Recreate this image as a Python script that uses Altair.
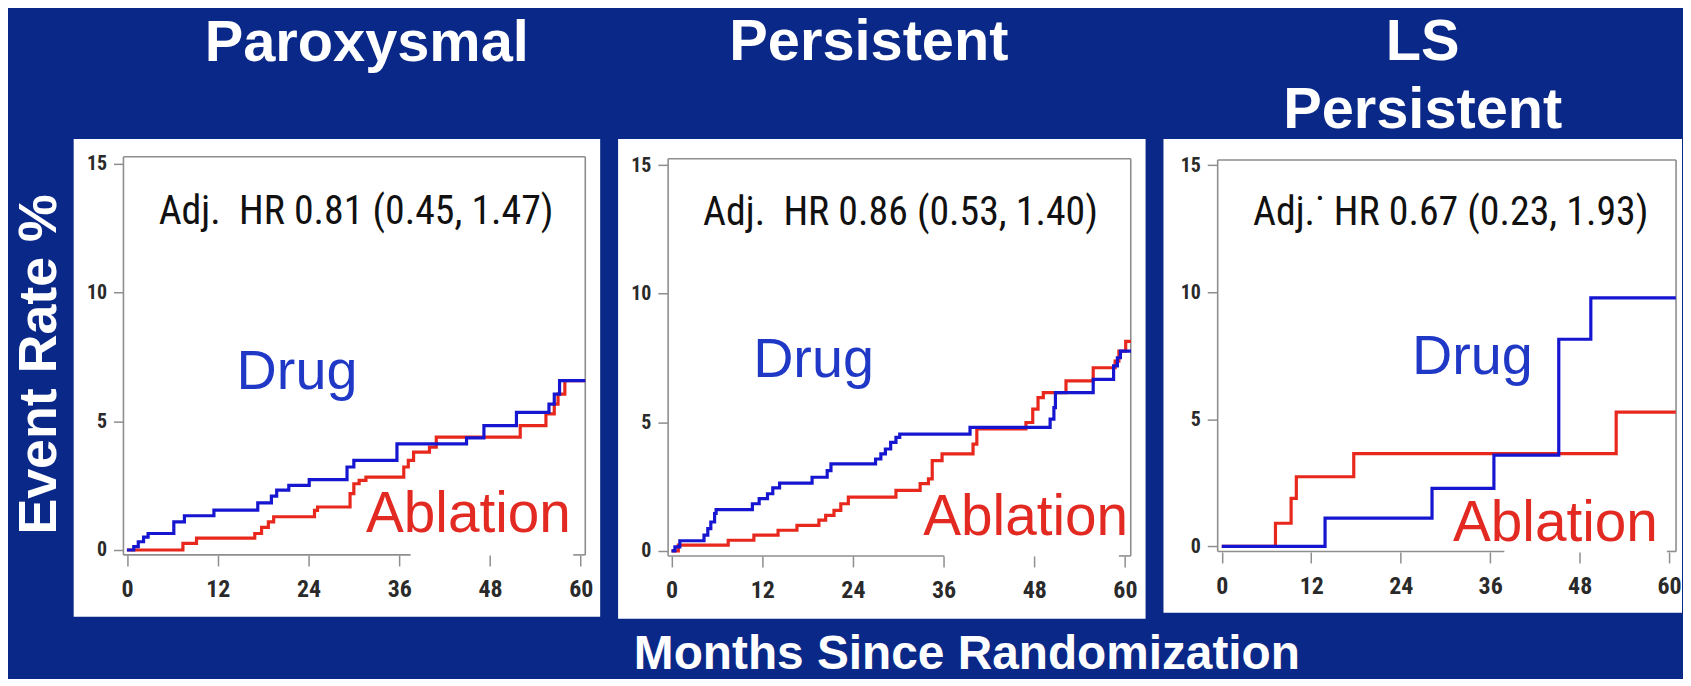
import altair as alt
import pandas as pd

# ---------------- data ----------------
panel_titles = [["Paroxysmal"], ["Persistent"], ["LS", "Persistent"]]
hr_labels = ["Adj.\u00a0\u00a0HR 0.81 (0.45, 1.47)",
             "Adj.\u00a0\u00a0HR 0.86 (0.53, 1.40)",
             "Adj.\u02d9\u00a0HR 0.67 (0.23, 1.93)"]
series_names = ["Drug", "Ablation"]
x_ticks = [0, 12, 24, 36, 48, 60]
y_ticks = [0, 5, 10, 15]
y_title = "Event Rate %"
x_title = "Months Since Randomization"

# Paroxysmal
par_drug_t = [0, 0.9, 1.5, 2.2, 2.8, 6.2, 7.6, 11.5, 17.3, 19.1, 19.8, 21.4, 24.1, 29.1, 30.0, 35.7, 44.9, 47.2, 51.5, 55.8, 56.5, 57.2, 60.6]
par_drug_v = [0, 0.13, 0.32, 0.50, 0.64, 1.09, 1.33, 1.55, 1.83, 2.09, 2.32, 2.51, 2.73, 3.22, 3.48, 4.12, 4.35, 4.83, 5.34, 5.66, 6.05, 6.57, 6.57]
par_abl_t = [0, 7.4, 9.2, 16.9, 17.8, 18.7, 19.4, 24.8, 25.2, 29.5, 30.0, 30.7, 31.6, 36.6, 37.2, 37.9, 40.0, 40.9, 52.0, 55.4, 56.5, 57.0, 57.9, 60.6]
par_abl_v = [0, 0.26, 0.46, 0.64, 0.88, 1.09, 1.29, 1.54, 1.67, 2.19, 2.57, 2.70, 2.83, 3.22, 3.48, 3.80, 3.99, 4.38, 4.83, 5.28, 5.66, 6.05, 6.57, 6.57]

# Persistent
per_drug_t = [0, 0.45, 1.1, 4.3, 4.8, 5.2, 5.7, 5.9, 10.7, 11.6, 12.7, 13.4, 14.3, 18.6, 20.6, 21.1, 27.0, 27.7, 28.3, 29.0, 29.7, 30.2, 39.5, 50.1, 50.6, 50.8, 55.8, 58.5, 59.0, 59.4, 60.8]
per_drug_v = [0, 0.15, 0.39, 0.61, 0.86, 1.12, 1.45, 1.60, 1.83, 2.03, 2.22, 2.45, 2.63, 2.86, 3.12, 3.38, 3.57, 3.77, 3.96, 4.22, 4.41, 4.54, 4.80, 5.12, 5.57, 6.15, 6.67, 7.19, 7.51, 7.77, 7.77]
per_abl_t = [0, 0.9, 7.5, 10.9, 14.1, 16.6, 19.5, 20.4, 21.5, 22.4, 23.4, 29.7, 32.9, 34.0, 34.5, 35.8, 39.9, 40.4, 46.9, 47.8, 48.5, 49.2, 52.2, 55.8, 58.7, 59.2, 60.1, 60.8]
per_abl_v = [0, 0.22, 0.41, 0.61, 0.80, 0.99, 1.19, 1.38, 1.57, 1.83, 2.09, 2.35, 2.61, 2.80, 3.51, 3.77, 4.15, 4.74, 4.99, 5.51, 5.96, 6.15, 6.61, 7.12, 7.38, 7.77, 8.15, 8.15]

# Long-standing persistent
ls_drug_t = [0, 13.85, 28.2, 36.5, 45.2, 49.5, 60.9]
ls_drug_v = [0, 1.11, 2.28, 3.59, 8.15, 9.78, 9.78]
ls_abl_t = [0, 7.2, 9.3, 10.0, 17.7, 52.9, 60.9]
ls_abl_v = [0, 0.91, 1.89, 2.74, 3.65, 5.28, 5.28]

curves = [
    ((par_drug_t, par_drug_v), (par_abl_t, par_abl_v)),
    ((per_drug_t, per_drug_v), (per_abl_t, per_abl_v)),
    ((ls_drug_t, ls_drug_v), (ls_abl_t, ls_abl_v)),
]

# ---------------- styling / layout ----------------
BG = "#0a2888"
FRAME = "#8e8e8e"
LABEL = "#2a2a2a"
LINE_BLUE = "#1616d0"
LINE_RED = "#e8281c"
TXT_BLUE = "#1f38c6"
TXT_RED = "#e22a22"
SANS = "Liberation Sans, Arial, sans-serif"
NARROW = "Liberation Sans Narrow, Arial Narrow, Roboto Condensed, Liberation Sans, sans-serif"

CFG = [
    dict(width=529, height=480, xdom=[-7.04, 62.57], ydom=[-2.588, 15.95],
         frame=(-0.46, 60.6, -0.19, 15.26), gap=(37.5, 59.0), xoff=-62, yoff=-50,
         hr=(30.3, 12.67), drug=(14.5, 6.26), abl=(31.6, 0.71), toff=66, tdx=30),
    dict(width=530, height=482, xdom=[-7.07, 62.73], ydom=[-2.641, 16.02],
         frame=(-0.45, 60.77, -0.2, 15.25), gap=(36.1, 59.2), xoff=-63, yoff=-50,
         hr=(30.3, 12.67), drug=(10.8, 6.76), abl=(33.3, 0.61), toff=67, tdx=-13),
    dict(width=521, height=476, xdom=[-7.82, 61.73], ydom=[-2.61, 16.03],
         frame=(-0.55, 60.93, -0.2, 15.2), gap=(37.9, 59.7), xoff=-61, yoff=-54,
         hr=(30.7, 12.65), drug=(25.5, 6.78), abl=(31.0, 0.2), toff=-1, tdx=0),
]


def build_panel(k):
    c = CFG[k]
    xs = alt.Scale(domain=c["xdom"], nice=False, zero=False)
    ys = alt.Scale(domain=c["ydom"], nice=False, zero=False)

    xaxis_kw = dict(values=x_ticks, offset=c["xoff"], domain=False, grid=False,
                    tickSize=11, tickColor=FRAME, tickWidth=1.5,
                    labelFont=NARROW, labelFontWeight="bold", labelFontSize=24,
                    labelColor=LABEL, labelPadding=12, labelFlush=False)
    yaxis_kw = dict(values=y_ticks, offset=c["yoff"], domain=False, grid=False,
                    tickSize=10, tickColor=FRAME, tickWidth=1.5,
                    labelFont=NARROW, labelFontWeight="bold", labelFontSize=20,
                    labelColor=LABEL, labelPadding=7)
    if k == 1:
        xaxis = alt.Axis(title=x_title, titleFont=SANS, titleFontWeight="bold",
                         titleFontSize=48, titleColor="white", titleBaseline="alphabetic",
                         titleAlign="center", titleX=350, titleY=113, **xaxis_kw)
    else:
        xaxis = alt.Axis(title=None, **xaxis_kw)
    if k == 0:
        yaxis = alt.Axis(title=y_title, titleFont=SANS, titleFontWeight="bold",
                         titleFontSize=54, titleColor="white", titleAngle=270,
                         titleBaseline="alphabetic", titleAlign="center",
                         titleX=-68, titleY=226, **yaxis_kw)
    else:
        yaxis = alt.Axis(title=None, **yaxis_kw)

    X = alt.X("x:Q", scale=xs, axis=xaxis)
    Y = alt.Y("y:Q", scale=ys, axis=yaxis)

    fl, fr, fb, ft = c["frame"]
    g0, g1 = c["gap"]
    frame_df = pd.DataFrame({
        "x":  [fl, fl, fr, fl, g1],
        "x2": [fl, fr, fr, g0, fr],
        "y":  [fb, ft, ft, fb, fb],
        "y2": [ft, ft, fb, fb, fb],
    })
    frame = alt.Chart(frame_df).mark_rule(color=FRAME, strokeWidth=1.6).encode(
        x=X, x2="x2:Q", y=Y, y2="y2:Q")

    (dt, dv), (at, av) = curves[k]
    abl_line = alt.Chart(pd.DataFrame({"x": at, "y": av})).mark_line(
        interpolate="step-after", color=LINE_RED, strokeWidth=3.2).encode(x=X, y=Y)
    drug_line = alt.Chart(pd.DataFrame({"x": dt, "y": dv})).mark_line(
        interpolate="step-after", color=LINE_BLUE, strokeWidth=3.2).encode(x=X, y=Y)

    hr_txt = alt.Chart(pd.DataFrame({"x": [c["hr"][0]], "y": [c["hr"][1]], "t": [hr_labels[k]]})).mark_text(
        align="center", baseline="alphabetic", font=NARROW, fontSize=40, color="#111111").encode(
        x=X, y=Y, text="t:N")
    drug_txt = alt.Chart(pd.DataFrame({"x": [c["drug"][0]], "y": [c["drug"][1]], "t": [series_names[0]]})).mark_text(
        align="left", baseline="alphabetic", font=SANS, fontSize=56, color=TXT_BLUE).encode(
        x=X, y=Y, text="t:N")
    abl_txt = alt.Chart(pd.DataFrame({"x": [c["abl"][0]], "y": [c["abl"][1]], "t": [series_names[1]]})).mark_text(
        align="left", baseline="alphabetic", font=SANS, fontSize=57, color=TXT_RED).encode(
        x=X, y=Y, text="t:N")

    title = alt.Title(text=panel_titles[k], font=SANS, fontWeight="bold", fontSize=58,
                      color="white", anchor="middle", frame="group", offset=c["toff"],
                      dx=c["tdx"], lineHeight=68)

    return alt.layer(frame, abl_line, drug_line, hr_txt, drug_txt, abl_txt).properties(
        width=c["width"], height=c["height"], title=title)


chart = alt.hconcat(*[build_panel(k) for k in range(3)], spacing=18, bounds="flush",
                    padding={"left": 4, "top": 5, "right": 0, "bottom": -1}).configure(
    background=BG).configure_view(fill="white", stroke="white", strokeWidth=0)

chart.save("out.html", embed_options={"renderer": "svg", "actions": False})
